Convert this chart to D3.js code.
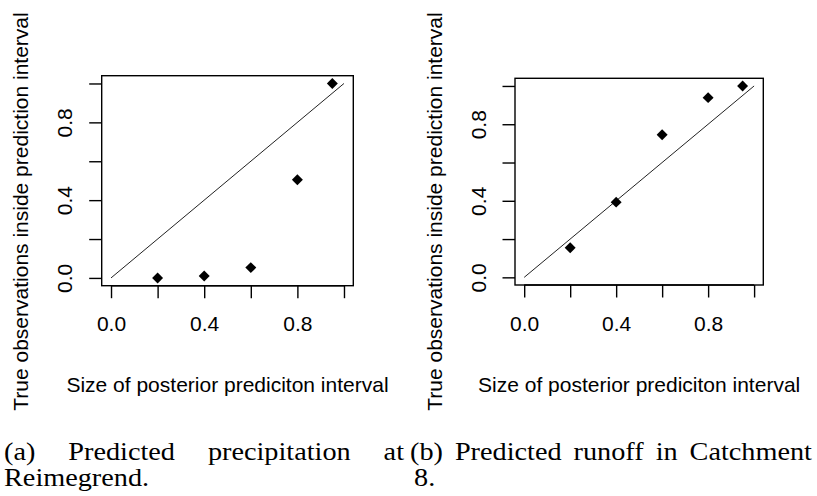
<!DOCTYPE html>
<html>
<head>
<meta charset="utf-8">
<script src="https://cdn.jsdelivr.net/npm/d3@7"></script>
<style>
  html, body { margin: 0; padding: 0; background: #fff; }
  svg { display: block; }
</style>
</head>
<body>
<svg id="fig" width="817" height="496"></svg>
<script>
// Nominal size of the posterior prediction interval (x) for each point
const intervalSizes = [0.2, 0.4, 0.6, 0.8, 0.95];
// Share of true observations inside the interval, Reimegrend precipitation
const coveragePrecip = [0.0, 0.01, 0.053, 0.505, 1.0];
// Share of true observations inside the interval, runoff in Catchment 8
const coverageRunoff = [0.155, 0.393, 0.745, 0.939, 1.0];
// Axis ticks and their printed labels (R style: every other tick labelled)
const tickValues = [0, 0.2, 0.4, 0.6, 0.8, 1.0];
const tickLabels = ["0.0", "", "0.4", "", "0.8", ""];
// Reference diagonal (perfect calibration)
const diagonal = [[0, 0], [1, 1]];

const xTitle = "Size of posterior prediciton interval";
const yTitle = "True observations inside prediction interval";

const svg = d3.select("#fig");
const sans = "'Liberation Sans', Arial, sans-serif";
const serif = "'Liberation Serif', 'Times New Roman', serif";

function panel(box, values) {
  const x = d3.scaleLinear().domain([-0.04, 1.04]).range([box.left, box.right]);
  const y = d3.scaleLinear().domain([-0.04, 1.04]).range([box.bottom, box.top]);
  const g = svg.append("g");

  // bottom axis
  const xAxis = d3.axisBottom(x)
    .tickValues(tickValues)
    .tickFormat((d, i) => tickLabels[i])
    .tickSize(12.5)
    .tickPadding(20);
  const gx = g.append("g").attr("transform", `translate(0,${box.bottom})`).call(xAxis);
  gx.select(".domain").remove();
  gx.append("line")
    .attr("x1", x(0)).attr("x2", x(1)).attr("y1", 0).attr("y2", 0)
    .attr("stroke", "#000").attr("stroke-width", 1.4);
  gx.selectAll(".tick line").attr("stroke", "#000").attr("stroke-width", 1.4);
  gx.selectAll(".tick text")
    .attr("fill", "#000")
    .attr("font-family", sans)
    .attr("font-size", 21)
    .attr("dy", null)
    .attr("y", 331 - box.bottom);

  // left axis, labels rotated parallel to the axis
  const yAxis = d3.axisLeft(y)
    .tickValues(tickValues)
    .tickFormat((d, i) => tickLabels[i])
    .tickSize(12.5);
  const gy = g.append("g").attr("transform", `translate(${box.left},0)`).call(yAxis);
  gy.select(".domain").remove();
  gy.selectAll(".tick line").attr("stroke", "#000").attr("stroke-width", 1.4);
  gy.selectAll(".tick text")
    .attr("fill", "#000")
    .attr("font-family", sans)
    .attr("font-size", 21)
    .attr("x", null).attr("dy", null)
    .attr("text-anchor", "middle")
    .attr("transform", "translate(-29.5,0) rotate(-90)");

  // frame
  g.append("rect")
    .attr("x", box.left).attr("y", box.top)
    .attr("width", box.right - box.left).attr("height", box.bottom - box.top)
    .attr("fill", "none").attr("stroke", "#000").attr("stroke-width", 1.4);

  // 1:1 line
  g.append("path")
    .datum(diagonal)
    .attr("d", d3.line().x(d => x(d[0])).y(d => y(d[1])))
    .attr("fill", "none").attr("stroke", "#222").attr("stroke-width", 1);

  // observed coverage, filled diamonds
  const diamond = d3.symbol().type(d3.symbolSquare).size(60);
  g.selectAll("path.pt")
    .data(intervalSizes.map((s, i) => [s, values[i]]))
    .join("path")
    .attr("class", "pt")
    .attr("d", diamond)
    .attr("transform", d => `translate(${x(d[0])},${y(d[1])}) rotate(45)`)
    .attr("fill", "#000");

  // axis titles
  const cx = (box.left + box.right) / 2;
  g.append("text")
    .attr("x", cx).attr("y", 392)
    .attr("text-anchor", "middle")
    .attr("font-family", sans).attr("font-size", 21)
    .attr("fill", "#000")
    .text(xTitle);
  g.append("text")
    .attr("text-anchor", "middle")
    .attr("font-family", sans).attr("font-size", 21)
    .attr("fill", "#000")
    .attr("transform", `translate(${box.left - 73.5},211.5) rotate(-90)`)
    .text(yTitle);
}

panel({ left: 101.7, right: 353.3, top: 75.7, bottom: 285.7 }, coveragePrecip);
panel({ left: 515, right: 763.3, top: 78.3, bottom: 285 }, coverageRunoff);

// Sub-figure captions, justified between the column edges
function captionLine(words, x0, x1, baseline, justify) {
  const fs = 25;
  const nodes = words.map(w => svg.append("text")
    .attr("y", baseline)
    .attr("font-family", serif)
    .attr("font-size", fs)
    .attr("fill", "#000")
    .text(w));
  // widen glyph runs a little towards Computer Modern proportions
  const widths = nodes.map(n => n.node().getComputedTextLength() * 1.13);
  const total = d3.sum(widths);
  const gap = justify && words.length > 1
    ? (x1 - x0 - total) / (words.length - 1)
    : fs * 0.33;
  let cur = x0;
  nodes.forEach((n, i) => {
    n.attr("x", cur)
     .attr("textLength", widths[i])
     .attr("lengthAdjust", "spacingAndGlyphs");
    cur += widths[i] + gap;
  });
}

captionLine(["(a)", "Predicted", "precipitation", "at"], 4, 404, 460, true);
captionLine(["Reimegrend."], 4, 404, 485.5, false);
captionLine(["(b)", "Predicted", "runoff", "in", "Catchment"], 410, 812, 460, true);
captionLine(["8."], 414, 812, 485.5, false);
</script>
</body>
</html>
